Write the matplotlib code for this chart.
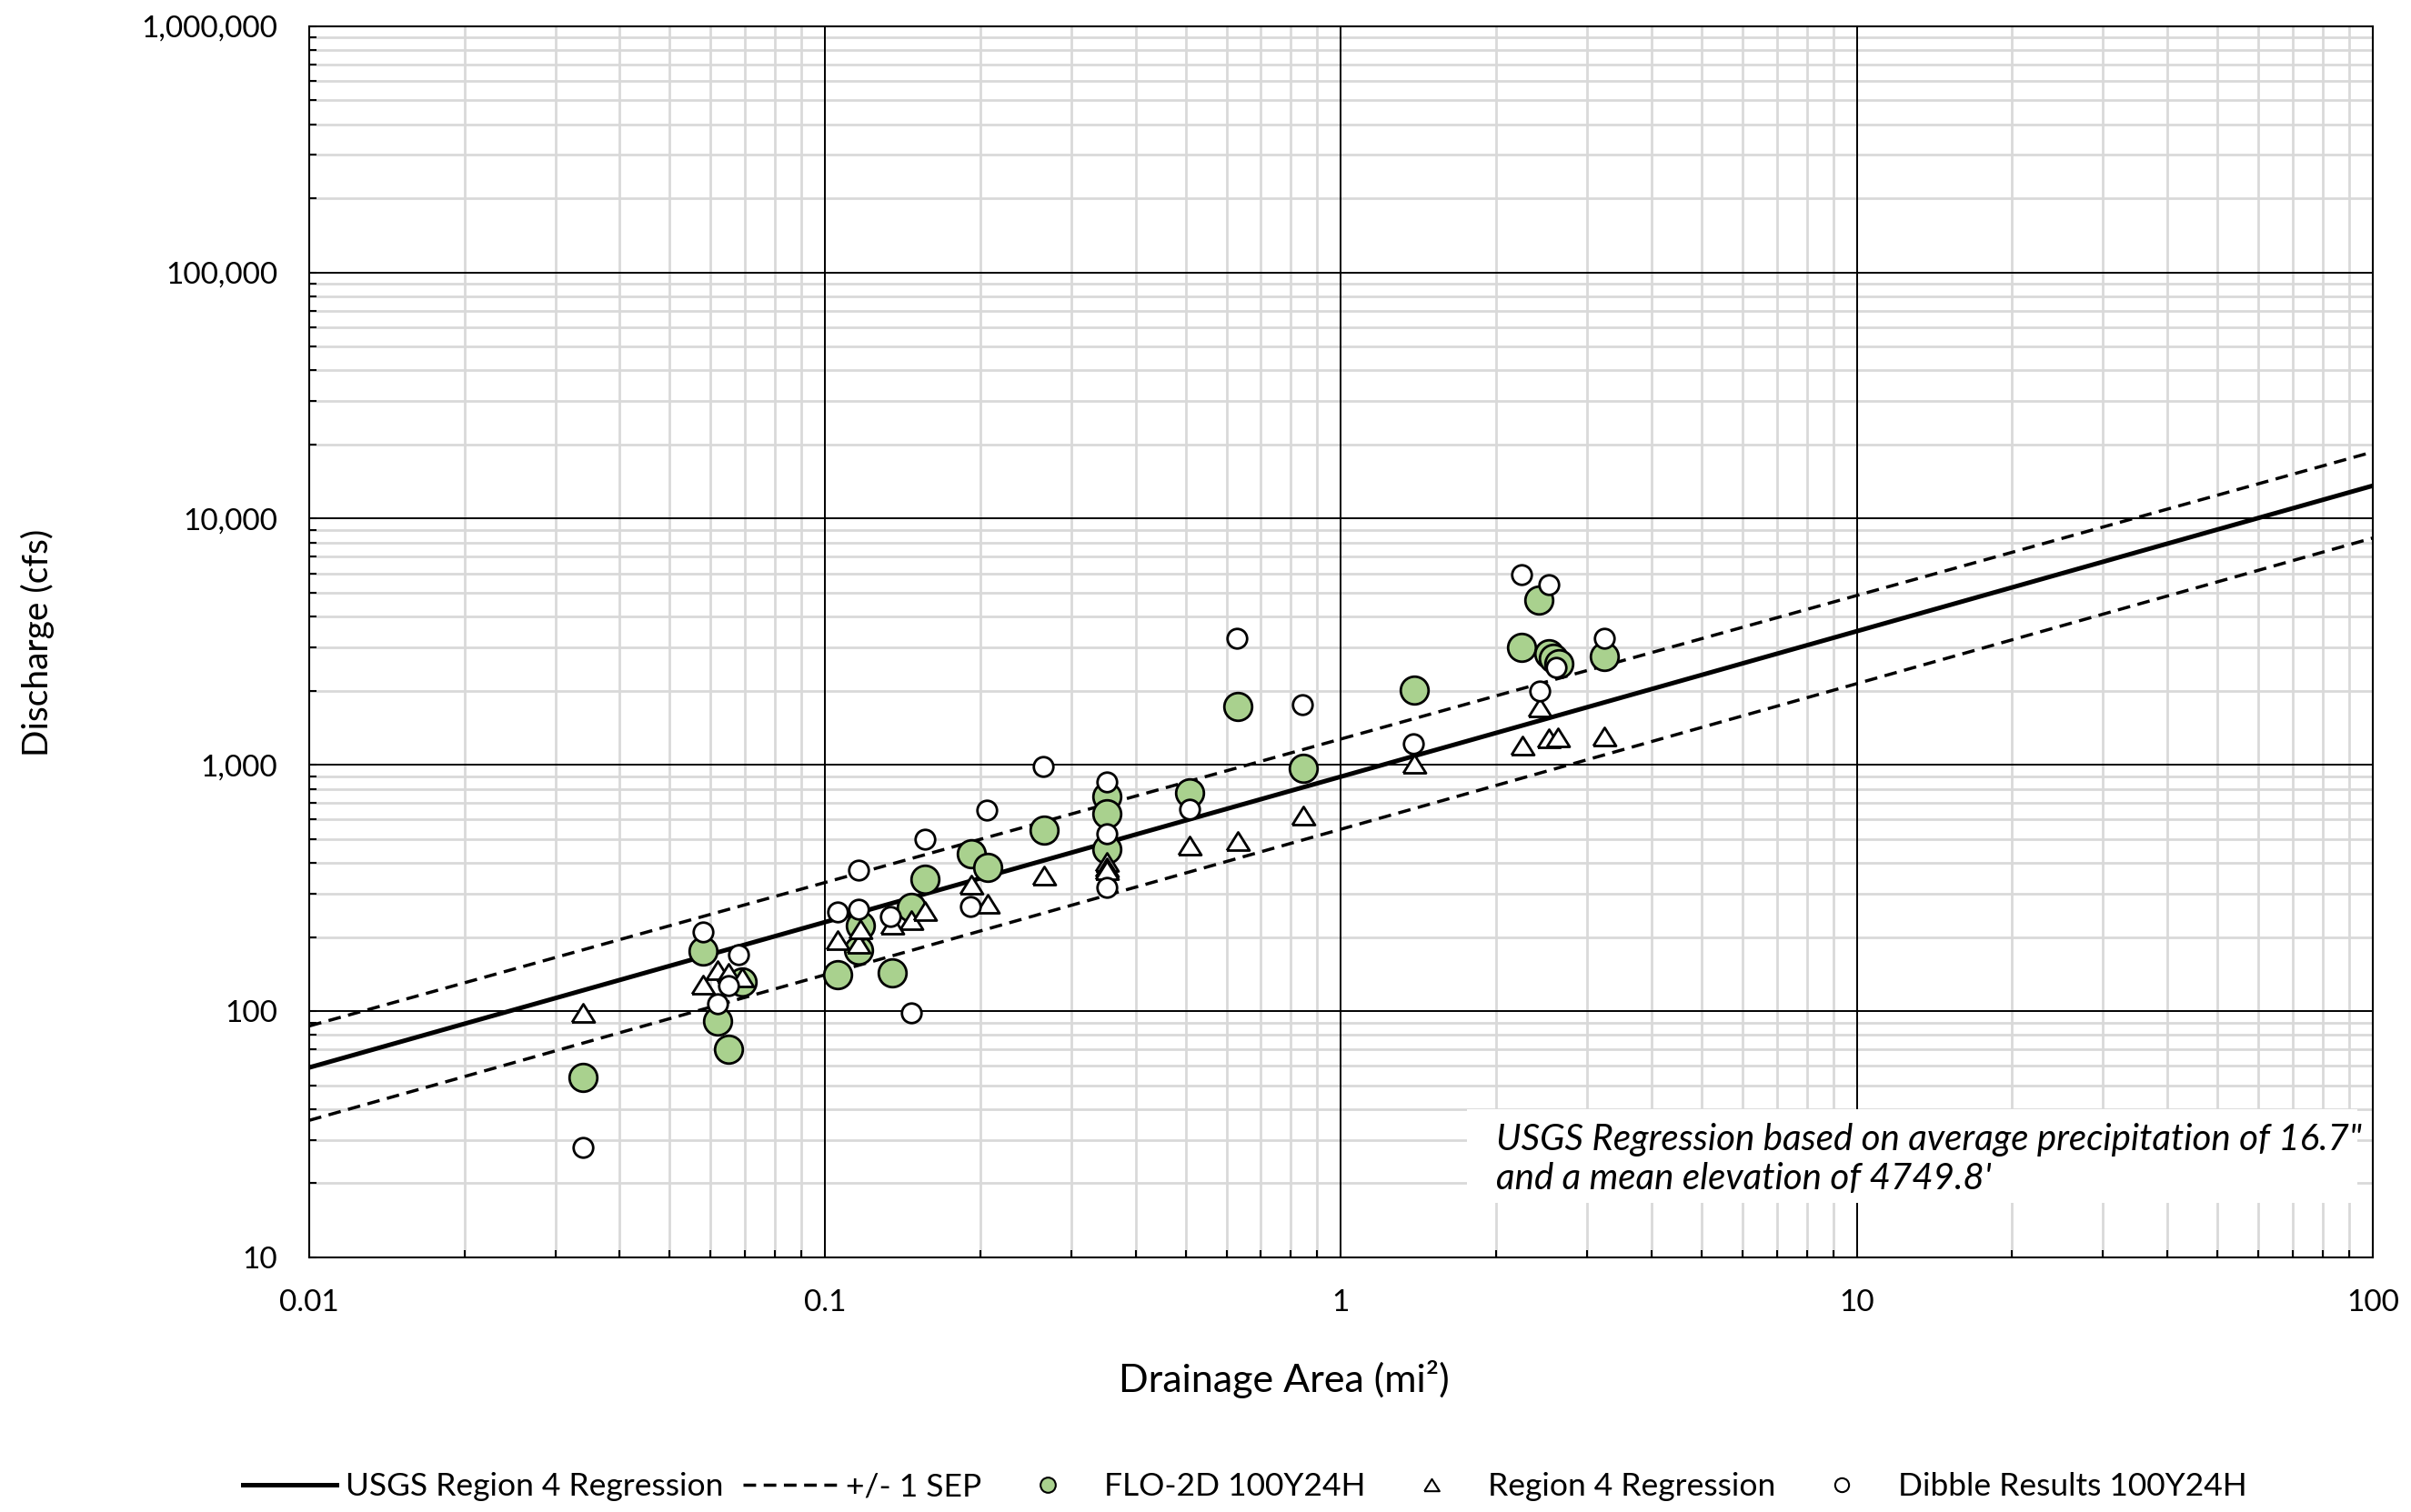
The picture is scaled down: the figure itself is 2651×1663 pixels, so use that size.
import matplotlib
matplotlib.use("Agg")
import matplotlib.pyplot as plt
from matplotlib.lines import Line2D
from matplotlib.patches import Rectangle
from matplotlib.ticker import LogLocator, FixedLocator, FixedFormatter, NullFormatter

plt.rcParams['font.family'] = ['Lato', 'DejaVu Sans']

# regression lines (end points)
line_area = [0.01, 100]
usgs_q = [59, 13600]
sep_hi_q = [87, 18650]
sep_lo_q = [36, 8340]

# FLO-2D 100Y24H
flo_area = [0.034, 0.058, 0.062, 0.065, 0.069, 0.106, 0.116, 0.117, 0.135, 0.147,
            0.156, 0.192, 0.207, 0.266, 0.352, 0.352, 0.352, 0.509, 0.63, 0.845,
            1.39, 2.24, 2.42, 2.53, 2.58, 2.64, 3.24]
flo_q = [54, 175, 91, 70, 131, 141, 177, 222, 143, 263,
         344, 436, 385, 542, 744, 633, 454, 772, 1730, 968,
         2020, 2990, 4670, 2820, 2700, 2570, 2750]

# Region 4 Regression
r4_area = [0.034, 0.058, 0.062, 0.065, 0.069, 0.106, 0.116, 0.117, 0.135, 0.147,
           0.156, 0.192, 0.207, 0.266, 0.352, 0.352, 0.352, 0.509, 0.63, 0.845,
           1.39, 2.25, 2.43, 2.53, 2.63, 3.24]
r4_q = [98, 128, 147, 143, 137, 195, 187, 216, 225, 235,
        256, 325, 274, 354, 402, 385, 375, 470, 490, 623,
        1010, 1200, 1710, 1285, 1290, 1300]

# Dibble Results 100Y24H
dib_area = [0.034, 0.058, 0.062, 0.065, 0.068, 0.106, 0.116, 0.116, 0.134, 0.147,
            0.156, 0.191, 0.206, 0.265, 0.352, 0.352, 0.352, 0.508, 0.628, 0.843,
            1.38, 2.24, 2.43, 2.53, 2.61, 3.24]
dib_q = [28, 210, 107, 127, 169, 252, 375, 259, 243, 98,
         500, 267, 655, 985, 852, 526, 318, 660, 3270, 1755,
         1215, 5930, 2000, 5380, 2500, 3270]

x_ticks = [0.01, 0.1, 1, 10, 100]
x_tick_labels = ["0.01", "0.1", "1", "10", "100"]
y_ticks = [10, 100, 1000, 10000, 100000, 1000000]
y_tick_labels = ["10", "100", "1,000", "10,000", "100,000", "1,000,000"]

GREEN = "#a9d18e"
TRI = [(-1, -0.8), (1, -0.8), (0, 0.8), (-1, -0.8)]
DASH = (0, (4, 2.4))

fig = plt.figure(figsize=(26.51, 16.63), dpi=100)
ax = fig.add_axes([0.1282, 0.1684, 0.8559, 0.8143])
ax.set_xscale('log')
ax.set_yscale('log')
ax.set_xlim(0.01, 100)
ax.set_ylim(10, 1e6)

ax.xaxis.set_major_locator(FixedLocator(x_ticks))
ax.xaxis.set_major_formatter(FixedFormatter(x_tick_labels))
ax.yaxis.set_major_locator(FixedLocator(y_ticks))
ax.yaxis.set_major_formatter(FixedFormatter(y_tick_labels))
for a in (ax.xaxis, ax.yaxis):
    a.set_minor_locator(LogLocator(base=10, subs=range(2, 10), numticks=50))
    a.set_minor_formatter(NullFormatter())

# light minor grid, black major grid drawn on top of it
ax.grid(which='minor', color='#d9d9d9', lw=2)
for xv in x_ticks[1:-1]:
    ax.axvline(xv, color='black', lw=1.4, zorder=1.6)
for yv in y_ticks[1:-1]:
    ax.axhline(yv, color='black', lw=1.4, zorder=1.6)

ax.tick_params(which='both', direction='in', length=6, width=1.5, color='black',
               top=False, right=False)
ax.tick_params(which='major', labelsize=24, pad=25)
for s in ax.spines.values():
    s.set_linewidth(1.5)

# regression lines
ax.plot(line_area, usgs_q, color='black', lw=3.6, zorder=2)
ax.plot(line_area, sep_hi_q, color='black', lw=2.5, ls=DASH, zorder=2)
ax.plot(line_area, sep_lo_q, color='black', lw=2.5, ls=DASH, zorder=2)

# scatter series
ax.plot(flo_area, flo_q, ls='none', marker='o', ms=22, mfc=GREEN, mec='black', mew=2, zorder=3)
ax.plot(r4_area, r4_q, ls='none', marker=TRI, ms=18, mfc='white', mec='black', mew=2, zorder=4)
ax.plot(dib_area, dib_q, ls='none', marker='o', ms=15.5, mfc='white', mec='black', mew=2, zorder=5)

# note box
ax.add_patch(Rectangle((0.5611, 0.0443), 0.4315, 0.0761, transform=ax.transAxes,
                       facecolor='white', edgecolor='none', zorder=1.8))
ax.text(0.5752, 0.0955, "USGS Regression based on average precipitation of 16.7\"",
        transform=ax.transAxes, fontsize=29, style='italic', va='center', ha='left', zorder=6)
ax.text(0.5752, 0.0635, "and a mean elevation of 4749.8'",
        transform=ax.transAxes, fontsize=29, style='italic', va='center', ha='left', zorder=6)

fig.text(0.0158, 0.5749, "Discharge (cfs)", rotation=90, fontsize=28, va='center', ha='center')
fig.text(0.5326, 0.0878, "Drainage Area (mi\u00b2)", fontsize=31, va='center', ha='center')

handles = [
    Line2D([], [], color='black', lw=3.6),
    Line2D([], [], color='black', lw=2.5, ls=DASH),
    Line2D([], [], ls='none', marker='o', ms=12, mfc=GREEN, mec='black', mew=1.5),
    Line2D([], [], ls='none', marker=TRI, ms=12, mfc='white', mec='black', mew=1.5),
    Line2D([], [], ls='none', marker='o', ms=11, mfc='white', mec='black', mew=1.5),
]
labels = ["USGS Region 4 Regression", "+/- 1 SEP", "FLO-2D 100Y24H",
          "Region 4 Regression", "Dibble Results 100Y24H"]
fig.legend(handles, labels, loc='center', bbox_to_anchor=(0.5164, 0.0168), ncol=5,
           frameon=False, fontsize=25.5, handlelength=2.9, handletextpad=0.3,
           columnspacing=0.6)

fig.savefig("out.png", dpi=100, facecolor='white')
